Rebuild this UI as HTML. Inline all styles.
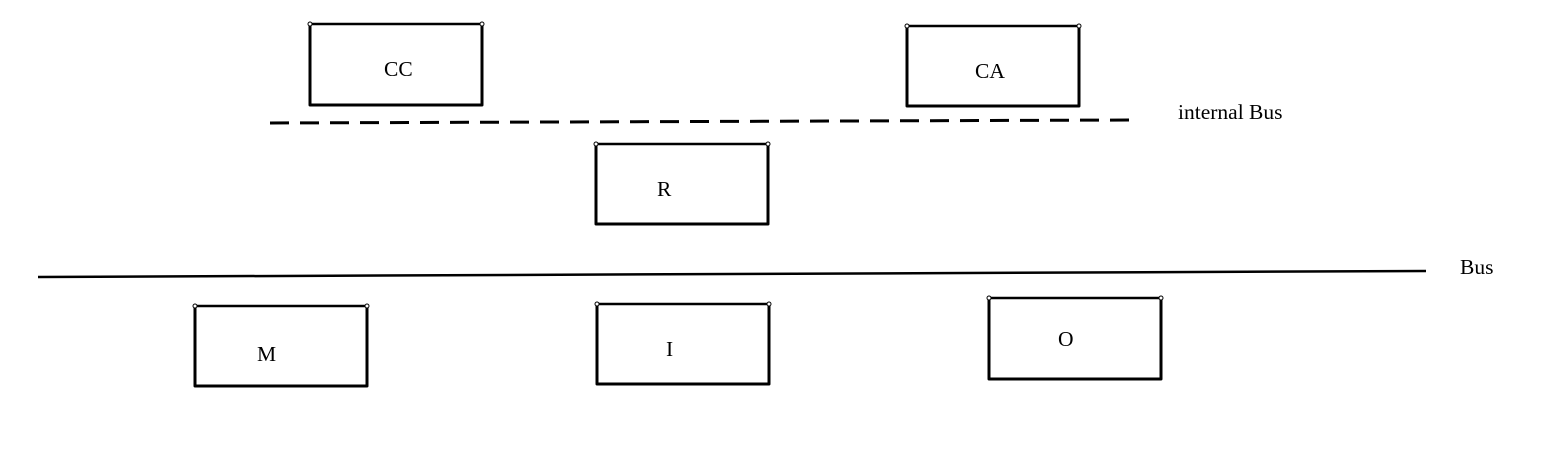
<!DOCTYPE html>
<html><head><meta charset="utf-8"><style>
html,body{margin:0;padding:0;background:#fff;width:1562px;height:449px;overflow:hidden}
text{font-family:"Liberation Serif",serif;font-size:21.5px;fill:#000}
</style></head><body>
<svg width="1562" height="449" viewBox="0 0 1562 449">
<g fill="none" stroke="#000" stroke-width="3" stroke-linejoin="round">
<g><path d="M310,24 L310,105 L482,105 L482,24" /><path d="M310,24 L482,24" stroke-width="2.5"/></g>
<g><path d="M907,26 L907,106 L1079,106 L1079,26" /><path d="M907,26 L1079,26" stroke-width="2.5"/></g>
<g><path d="M596,144 L596,224 L768,224 L768,144" /><path d="M596,144 L768,144" stroke-width="2.5"/></g>
<g><path d="M195,306 L195,386 L367,386 L367,306" /><path d="M195,306 L367,306" stroke-width="2.5"/></g>
<g><path d="M597,304 L597,384 L769,384 L769,304" /><path d="M597,304 L769,304" stroke-width="2.5"/></g>
<g><path d="M989,298 L989,379 L1161,379 L1161,298" /><path d="M989,298 L1161,298" stroke-width="2.5"/></g>
<line x1="270" y1="123" x2="1130" y2="120" stroke-dasharray="19,11"/>
<line x1="38" y1="277" x2="1426" y2="271" stroke-width="2.5"/>
</g>
<g fill="#fff" stroke="#000" stroke-width="1">
<circle cx="310" cy="24" r="2"/><circle cx="482" cy="24" r="2"/>
<circle cx="907" cy="26" r="2"/><circle cx="1079" cy="26" r="2"/>
<circle cx="596" cy="144" r="2"/><circle cx="768" cy="144" r="2"/>
<circle cx="195" cy="306" r="2"/><circle cx="367" cy="306" r="2"/>
<circle cx="597" cy="304" r="2"/><circle cx="769" cy="304" r="2"/>
<circle cx="989" cy="298" r="2"/><circle cx="1161" cy="298" r="2"/>
</g>
<text x="384" y="76">CC</text>
<text x="975" y="78">CA</text>
<text x="657" y="196">R</text>
<text x="257" y="361">M</text>
<text x="666" y="356">I</text>
<text x="1058" y="346">O</text>
<text x="1178" y="119">internal Bus</text>
<text x="1460" y="274">Bus</text>
</svg>
</body></html>
